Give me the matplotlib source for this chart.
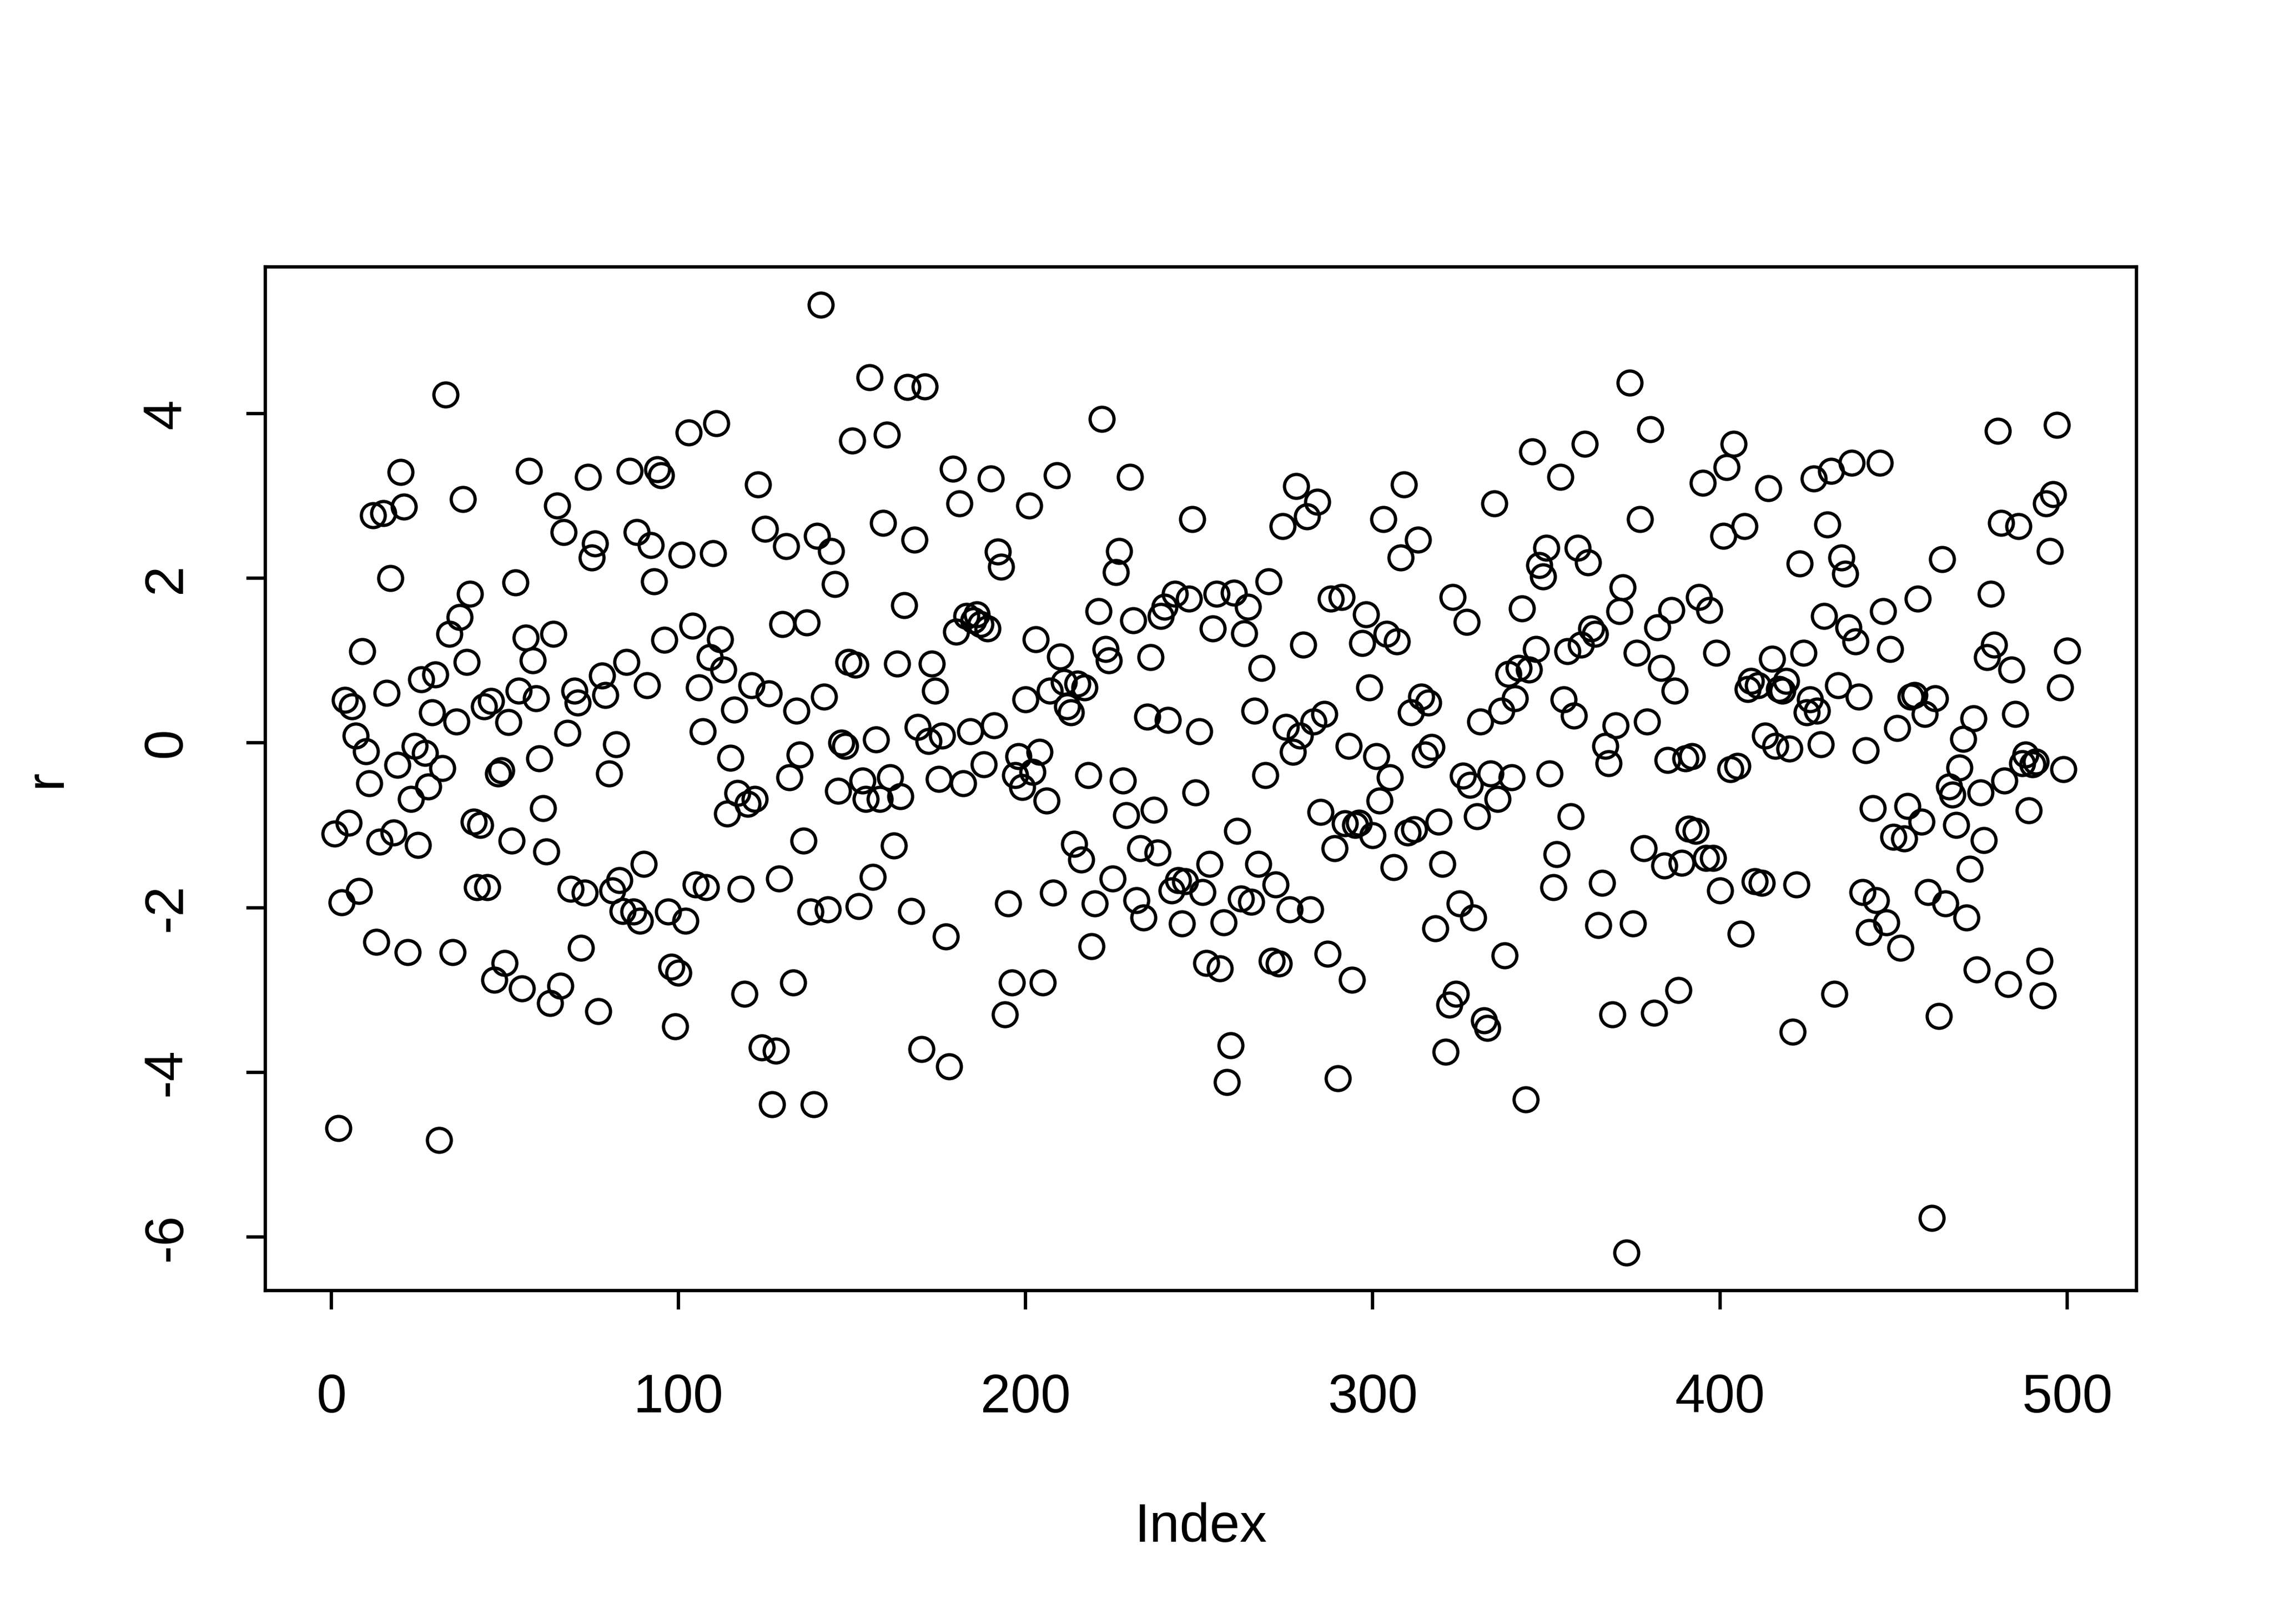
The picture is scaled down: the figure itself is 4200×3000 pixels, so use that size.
import matplotlib
matplotlib.use("Agg")
import matplotlib.pyplot as plt
import numpy as np

plt.rcParams['font.family'] = ['Liberation Sans', 'DejaVu Sans']

r = [
    -1.10, -4.68, -1.94, 0.52, -0.97, 0.44, 0.09, -1.80, 1.11, -0.10,
    -0.49, 2.76, -2.42, -1.20, 2.79, 0.61, 2.00, -1.09, -0.27, 3.29,
    2.87, -2.54, -0.68, -0.04, -1.24, 0.77, -0.12, -0.53, 0.37, 0.83,
    -4.82, -0.31, 4.23, 1.32, -2.54, 0.26, 1.53, 2.96, 0.98, 1.81,
    -0.96, -1.75, -1.00, 0.44, -1.75, 0.51, -2.88, -0.37, -0.33, -2.67,
    0.25, -1.19, 1.95, 0.63, -2.98, 1.28, 3.30, 1.00, 0.54, -0.19,
    -0.79, -1.32, -3.16, 1.32, 2.88, -2.95, 2.56, 0.12, -1.77, 0.63,
    0.49, -2.49, -1.82, 3.23, 2.25, 2.42, -3.26, 0.82, 0.58, -0.37,
    -1.79, -0.02, -1.67, -2.04, 0.98, 3.30, -2.05, 2.56, -2.16, -1.47,
    0.70, 2.40, 1.96, 3.32, 3.25, 1.25, -2.05, -2.72, -3.44, -2.79,
    2.28, -2.16, 3.77, 1.42, -1.72, 0.67, 0.14, -1.75, 1.04, 2.30,
    3.88, 1.26, 0.89, -0.86, -0.18, 0.40, -0.61, -1.77, -3.05, -0.74,
    0.70, -0.68, 3.14, -3.70, 2.60, 0.60, -4.39, -3.74, -1.65, 1.44,
    2.39, -0.42, -2.91, 0.39, -0.14, -1.19, 1.46, -2.05, -4.39, 2.51,
    5.32, 0.56, -2.02, 2.33, 1.93, -0.58, 0.00, -0.04, 0.98, 3.67,
    0.95, -1.98, -0.46, -0.68, 4.44, -1.63, 0.04, -0.68, 2.67, 3.74,
    -0.42, -1.25, 0.96, -0.65, 1.67, 4.32, -2.04, 2.47, 0.19, -3.72,
    4.33, 0.02, 0.96, 0.63, -0.44, 0.09, -2.35, -3.93, 3.33, 1.35,
    2.91, -0.49, 1.54, 0.14, 1.49, 1.56, 1.44, -0.26, 1.39, 3.21,
    0.21, 2.32, 2.14, -3.30, -1.95, -2.91, -0.39, -0.16, -0.54, 0.53,
    2.88, -0.35, 1.26, -0.11, -2.91, -0.70, 0.63, -1.82, 3.25, 1.05,
    0.74, 0.44, 0.37, -1.23, 0.72, -1.42, 0.67, -0.39, -2.47, -1.95,
    1.60, 3.93, 1.14, 1.00, -1.65, 2.07, 2.33, -0.46, -0.88, 3.23,
    1.49, -1.91, -1.28, -2.12, 0.32, 1.04, -0.81, -1.33, 1.54, 1.65,
    0.28, -1.79, 1.81, -1.67, -2.19, -1.68, 1.75, 2.72, -0.60, 0.14,
    -1.81, -2.67, -1.47, 1.39, 1.81, -2.74, -2.18, -4.12, -3.67, 1.82,
    -1.07, -1.89, 1.33, 1.65, -1.93, 0.39, -1.47, 0.91, -0.39, 1.96,
    -2.65, -1.72, -2.68, 2.63, 0.19, -2.02, -0.11, 3.12, 0.09, 1.19,
    2.75, -2.02, 0.26, 2.93, -0.84, 0.35, -2.56, 1.75, -1.28, -4.07,
    1.77, -0.98, -0.04, -2.88, -1.00, -0.97, 1.21, 1.56, 0.67, -1.12,
    -0.16, -0.70, 2.72, 1.32, -0.42, -1.51, 1.23, 2.25, 3.14, -1.09,
    0.37, -1.05, 2.47, 0.56, -0.14, 0.49, -0.05, -2.25, -0.96, -1.47,
    -3.75, -3.18, 1.77, -3.05, -1.95, -0.40, 1.47, -0.51, -2.12, -0.89,
    0.26, -3.37, -3.46, -0.37, 2.91, -0.68, 0.39, -2.58, 0.84, -0.42,
    0.54, 0.91, 1.63, -4.33, 0.89, 3.54, 1.14, 2.16, 2.02, 2.37,
    -0.37, -1.75, -1.35, 3.23, 0.53, 1.11, -0.89, 0.33, 2.37, 1.19,
    3.63, 2.19, 1.39, 1.32, -2.21, -1.70, -0.04, -0.25, -3.30, 0.21,
    1.60, 1.89, -6.19, 4.37, -2.19, 1.09, 2.72, -1.28, 0.26, 3.81,
    -3.28, 1.40, 0.91, -1.49, -0.21, 1.61, 0.63, -3.00, -1.46, -0.19,
    -1.04, -0.16, -1.07, 1.77, 3.16, -1.40, 1.61, -1.40, 1.09, -1.79,
    2.51, 3.35, -0.32, 3.63, -0.28, -2.32, 2.63, 0.65, 0.75, -1.68,
    0.70, -1.70, 0.09, 3.09, 1.02, -0.04, 0.65, 0.63, 0.75, -0.07,
    -3.51, -1.72, 2.18, 1.09, 0.37, 0.53, 3.21, 0.39, -0.02, 1.54,
    2.65, 3.30, -3.05, 0.70, 2.25, 2.05, 1.40, 3.40, 1.23, 0.56,
    -1.81, -0.09, -2.30, -0.79, -1.91, 3.40, 1.60, -2.18, 1.14, -1.14,
    0.18, -2.49, -1.16, -0.77, 0.56, 0.58, 1.75, -0.96, 0.35, -1.81,
    -5.77, 0.54, -3.32, 2.23, -1.95, -0.53, -0.63, -1.00, -0.30, 0.05,
    -2.12, -1.53, 0.30, -2.75, -0.60, -1.18, 1.04, 1.81, 1.19, 3.79,
    2.67, -0.46, -2.93, 0.89, 0.35, 2.63, -0.25, -0.14, -0.82, -0.26,
    -0.23, -2.65, -3.07, 2.91, 2.33, 3.02, 3.86, 0.67, -0.32, 1.12,
]
index = np.arange(1, len(r) + 1)

x_ticks = [0, 100, 200, 300, 400, 500]
y_ticks = [-6, -4, -2, 0, 2, 4]
x_label = "Index"
y_label = "r"

fig = plt.figure(figsize=(7, 5), dpi=600)
ax = fig.add_axes([0.1167, 0.2053, 0.9395 - 0.1167, 0.8357 - 0.2053])

ax.plot(index, r, linestyle='none', marker='o', markersize=5.3,
        markerfacecolor='none', markeredgecolor='black', markeredgewidth=0.72)

# R-style 4% axis extension
xmin, xmax = index.min(), index.max()
dx = (xmax - xmin) * 0.04
ax.set_xlim(xmin - dx, xmax + dx)
ymin, ymax = min(r), max(r)
dy = (ymax - ymin) * 0.04
ax.set_ylim(ymin - dy, ymax + dy)

ax.set_xticks(x_ticks)
ax.set_yticks(y_ticks)
ax.set_xticklabels([str(t) for t in x_ticks])
ax.set_yticklabels([str(t) for t in y_ticks], rotation=90, va='center')

ax.tick_params(axis='both', direction='out', length=4.2, width=0.75,
               labelsize=12, color='black')
ax.tick_params(axis='x', pad=14.0)
ax.tick_params(axis='y', pad=12.0)

for s in ax.spines.values():
    s.set_linewidth(0.75)
    s.set_color('black')

ax.set_xlabel(x_label, fontsize=12, labelpad=17.4)
ax.set_ylabel(y_label, fontsize=12, labelpad=15.4)

fig.savefig("out.png", dpi=600, facecolor='white')
